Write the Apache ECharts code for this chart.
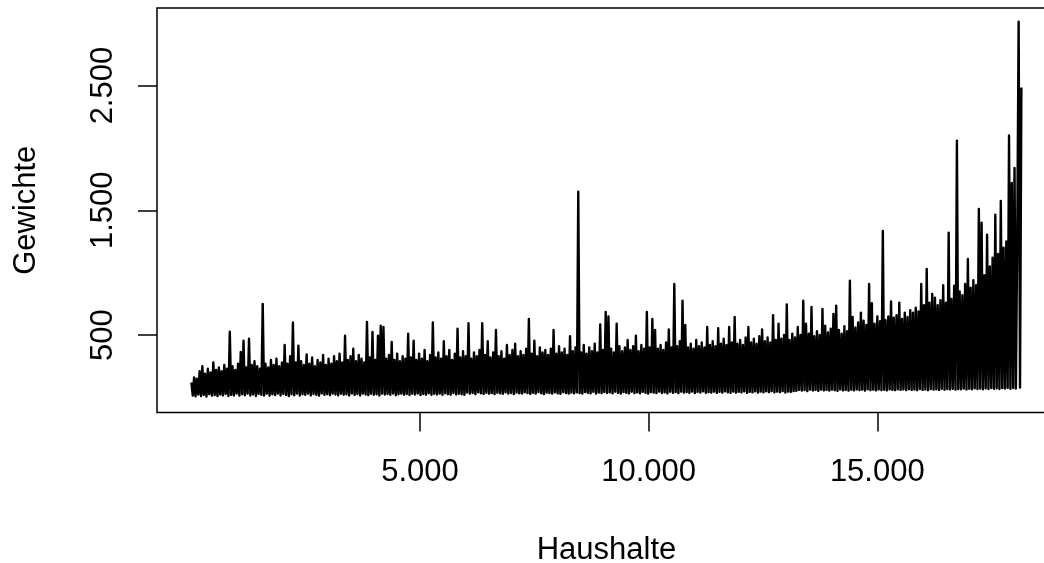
<!DOCTYPE html>
<html>
<head>
<meta charset="utf-8">
<script src="https://cdn.jsdelivr.net/npm/echarts@6/dist/echarts.min.js"></script>
<style>
html,body{margin:0;padding:0;background:#fff;}
#chart{width:1044px;height:563px;}
</style>
</head>
<body>
<div id="chart"></div>
<script>
// Household weights (downsampled: one value every 30 households, alternating local max / min)
const schritt = 30;
const gewichte = [
120,15,160,8,150,23,210,10,250,20,190,6,230,25,200,13,280,18,220,10,
240,23,210,15,260,27,230,10,526,20,250,15,220,30,270,13,365,25,455,17,
240,30,470,15,260,23,290,10,250,27,230,20,750,15,270,30,240,13,300,25,
260,18,310,30,250,15,280,27,420,20,270,10,330,25,600,17,280,30,415,15,
290,25,260,20,345,30,270,15,320,27,250,21,300,13,280,31,340,20,260,25,
310,17,270,30,330,23,290,15,350,29,280,21,495,25,300,15,330,31,390,20,
290,27,340,15,310,30,280,23,605,18,320,29,525,21,300,25,495,15,575,30,
565,23,310,27,340,20,445,31,300,17,350,25,290,30,330,21,310,27,510,19,
320,29,455,23,300,31,350,18,310,27,380,21,290,33,340,20,600,29,320,23,
360,30,310,20,450,33,330,25,380,21,300,35,350,23,550,29,320,25,370,20,
330,38,595,30,310,35,360,25,330,40,380,32,595,28,340,36,450,30,320,34,
360,26,540,38,330,32,370,28,310,40,420,30,340,35,380,26,430,38,330,32,
370,30,340,40,390,34,630,28,350,36,455,30,330,42,400,32,360,26,380,38,
340,34,390,30,540,40,350,32,410,28,360,42,390,34,340,30,490,38,370,32,
400,40,1649,34,360,30,420,42,350,36,400,32,370,44,430,30,360,38,585,34,
380,42,685,35,650,40,390,32,360,45,590,36,410,30,370,42,400,36,460,32,
380,45,410,34,495,40,370,32,420,44,390,36,685,30,400,42,630,38,540,34,
390,46,420,35,380,40,440,32,545,45,400,36,910,42,410,34,450,46,775,38,
580,42,400,36,430,46,390,34,460,44,410,38,440,48,400,36,565,42,420,38,
450,46,410,36,555,44,430,38,470,48,420,40,565,36,440,46,645,38,430,44,
460,40,420,48,480,36,565,44,440,40,470,48,430,38,490,46,545,40,450,48,
480,42,440,50,660,40,460,46,590,42,470,50,500,38,745,46,460,44,510,50,
480,52,565,60,500,54,775,58,590,50,510,62,725,55,490,60,530,52,500,62,
710,56,575,60,520,54,550,62,670,58,735,52,540,64,510,56,570,60,530,54,
935,62,645,56,560,64,600,58,680,62,615,54,580,66,910,58,755,62,590,56,
650,64,610,58,1335,62,620,56,650,66,770,60,640,58,660,66,760,60,630,64,
680,58,645,66,700,60,680,64,720,58,690,68,910,60,740,64,1030,58,760,68,
830,62,800,66,740,60,780,70,900,62,760,68,1320,64,790,70,895,62,2058,68,
850,66,820,72,910,64,1110,70,880,66,940,74,900,68,1510,72,1400,66,980,74,
1305,68,1050,76,1120,70,1465,74,1150,68,1575,76,1200,72,1250,78,2100,70,1720,76,
1840,72,1300,3012,80,2485
];
const xTicks = [5000, 10000, 15000];
const yTicks = [500, 1500, 2500];
const xTitle = 'Haushalte';
const yTitle = 'Gewichte';

const fmt = v => String(v).replace(/\B(?=(\d{3})+(?!\d))/g, '.');
const FONT = "'Liberation Sans', Arial, sans-serif";

const chart = echarts.init(document.getElementById('chart'), null, {renderer: 'canvas'});
chart.setOption({
  backgroundColor: '#ffffff',
  animation: false,
  grid: {
    show: true, left: 157, top: 8, width: 899, height: 404.5,
    containLabel: false, outerBoundsMode: 'none',
    borderColor: '#000', borderWidth: 1.5, backgroundColor: 'transparent'
  },
  xAxis: {
    type: 'value', min: -751, max: 18908, position: 'bottom',
    name: xTitle, nameLocation: 'middle', nameGap: 122,
    nameTextStyle: {fontFamily: FONT, fontSize: 31, color: '#000'},
    axisLine: {show: false, onZero: false},
    splitLine: {show: false},
    axisTick: {show: true, length: 19, customValues: xTicks, lineStyle: {color: '#000', width: 1.5}},
    axisLabel: {customValues: xTicks, formatter: v => fmt(v), margin: 44,
      fontFamily: FONT, fontSize: 31, color: '#000'}
  },
  yAxis: {
    type: 'value', min: -121, max: 3122, position: 'left',
    name: yTitle, nameLocation: 'middle', nameGap: 115,
    nameTextStyle: {fontFamily: FONT, fontSize: 31, color: '#000'},
    axisLine: {show: false, onZero: false},
    splitLine: {show: false},
    axisTick: {show: true, length: 19, customValues: yTicks, lineStyle: {color: '#000', width: 1.5}},
    axisLabel: {customValues: yTicks, formatter: v => fmt(v), rotate: 90, margin: 38,
      fontFamily: FONT, fontSize: 31, color: '#000'}
  },
  series: [{
    type: 'line',
    data: gewichte.map((v, i) => [1 + i * schritt, v]),
    showSymbol: false,
    symbol: 'none',
    sampling: null,
    silent: true,
    lineStyle: {color: '#000', width: 2.4, join: 'round', cap: 'butt'}
  }]
});
</script>
</body>
</html>
